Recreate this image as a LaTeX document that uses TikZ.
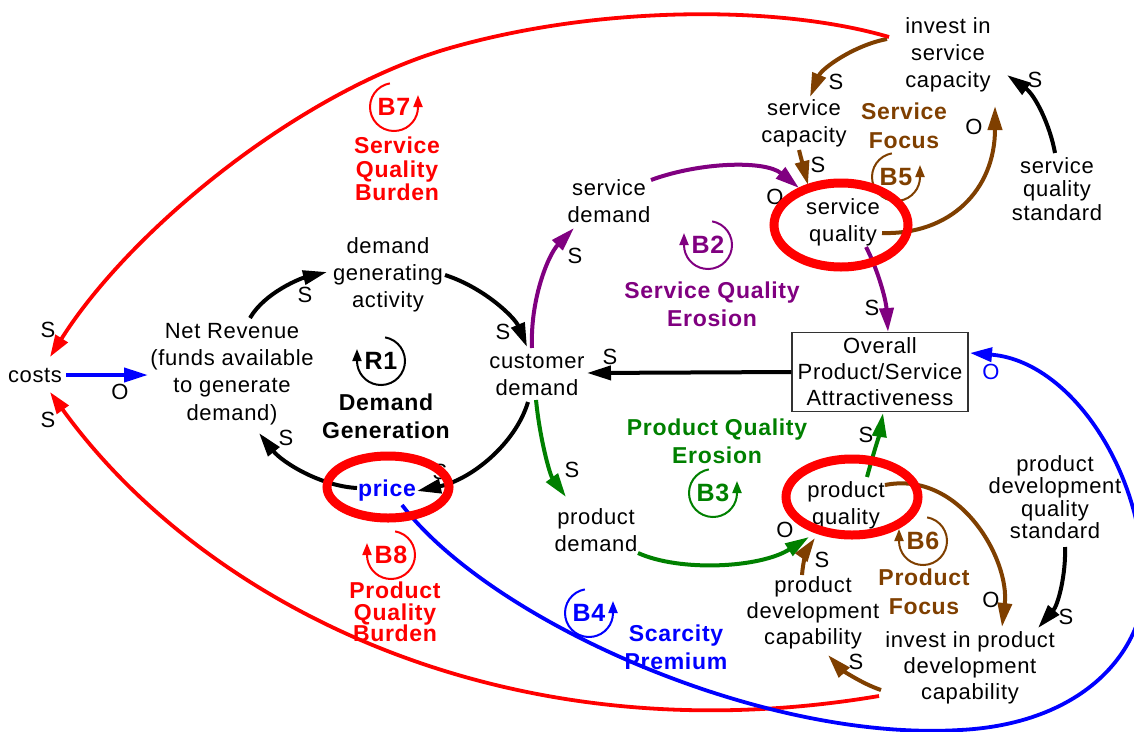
\documentclass[tikz,border=0pt]{standalone}
\usepackage{fontspec}
\setmainfont{Liberation Sans}[LetterSpace=3]
\usetikzlibrary{arrows.meta}
\definecolor{cred}{HTML}{FF0000}
\definecolor{cpur}{HTML}{800080}
\definecolor{cbrn}{HTML}{7F3F00}
\definecolor{cgrn}{HTML}{008000}
\definecolor{cblu}{HTML}{0000FF}
\begin{document}
\begin{tikzpicture}[x=1pt,y=-1pt,
  txt/.style={align=center,inner sep=0pt,font=\fontsize{22}{27.3}\selectfont},
  ttl/.style={align=center,inner sep=0pt,font=\bfseries\fontsize{23}{28}\selectfont},
  pol/.style={inner sep=0pt,font=\fontsize{22}{22}\selectfont},
  conn/.style={line width=4pt,-{Triangle[length=24pt,width=14pt]}},
  bigc/.style={line width=3.8pt,-{Triangle[length=22pt,width=14pt]}},
  loopa/.style={line width=2pt,-{Triangle[length=12pt,width=9pt]}},
  loopt/.style={inner sep=0pt,font=\bfseries\fontsize{25}{25}\selectfont},
  hilite/.style={draw=cred,line width=9pt}]
\useasboundingbox (0,0) rectangle (1134,731);

% ---------- variables ----------
\node[txt] (costs) at (35,375) {costs};
\node[txt] (netrev) at (232,374) {Net Revenue\\(funds available\\to generate\\demand)};
\node[txt] (dga) at (388,275) {demand\\generating\\activity};
\node[txt] (cd) at (537,375) {customer\\demand};
\node[txt,text=cblu,font=\bfseries\fontsize{23}{27}\selectfont] (price) at (387,491) {price};
\node[txt] (sd) at (609,201) {service\\demand};
\node[txt] (sc) at (804,123) {service\\capacity};
\node[txt] (isc) at (948,55) {invest in\\service\\capacity};
\node[txt] (sq) at (843,222) {service\\quality};
\node[txt,font=\fontsize{22}{23.5}\selectfont] (sqs) at (1057,189) {service\\quality\\standard};
\node[txt,draw=black!80,fill=white,line width=1.2pt,minimum width=176pt,minimum height=79pt,font=\fontsize{22}{26}\selectfont] (box) at (880,372) {Overall\\Product/Service\\Attractiveness};
\node[txt] (pq) at (846,505) {product\\quality};
\node[txt] (pd) at (596,530) {product\\demand};
\node[txt,font=\fontsize{22}{26}\selectfont] (pdc) at (813,613) {product\\development\\capability};
\node[txt,font=\fontsize{22}{26}\selectfont] (ipdc) at (970,668) {invest in product\\development\\capability};
\node[txt,font=\fontsize{22}{22.5}\selectfont] (pdqs) at (1055,497) {product\\development\\quality\\standard};

% ---------- loop titles ----------
\node[ttl,text=cred,font=\bfseries\fontsize{23}{23.5}\selectfont] (t7) at (397,169) {Service\\Quality\\Burden};
\node[ttl] (t1) at (386,416) {Demand\\Generation};
\node[ttl,text=cpur] (t2) at (712,304) {Service Quality\\Erosion};
\node[ttl,text=cbrn,font=\bfseries\fontsize{23}{29}\selectfont] (t5) at (904,126) {Service\\Focus};
\node[ttl,text=cgrn] (t3) at (717,441) {Product Quality\\Erosion};
\node[ttl,text=cbrn,font=\bfseries\fontsize{23}{29}\selectfont] (t6) at (924,592) {Product\\Focus};
\node[ttl,text=cblu] (t4) at (676,647) {Scarcity\\Premium};
\node[ttl,text=cred,font=\bfseries\fontsize{23}{21.5}\selectfont] (t8) at (395,612) {Product\\Quality\\Burden};

% ---------- loop symbols ----------
\begin{scope}[shift={(394,107)},yscale=-1]
  \draw[loopa,cred] (100:24) arc[start angle=100,end angle=360,radius=24] -- ++(0,12);
  \node[loopt,text=cred] (b7) at (0,0) {B7};
\end{scope}
\begin{scope}[shift={(381,361)},yscale=-1]
  \draw[loopa,black] (80:24) arc[start angle=80,end angle=-180,radius=24] -- ++(0,12);
  \node[loopt] (r1) at (0,0) {R1};
\end{scope}
\begin{scope}[shift={(708,245)},yscale=-1]
  \draw[loopa,cpur] (80:24) arc[start angle=80,end angle=-180,radius=24] -- ++(0,12);
  \node[loopt,text=cpur] (b2) at (0,0) {B2};
\end{scope}
\begin{scope}[shift={(896,177)},yscale=-1]
  \draw[loopa,cbrn] (100:24) arc[start angle=100,end angle=360,radius=24] -- ++(0,12);
  \node[loopt,text=cbrn] (b5) at (0,0) {B5};
\end{scope}
\begin{scope}[shift={(713,493)},yscale=-1]
  \draw[loopa,cgrn] (100:24) arc[start angle=100,end angle=360,radius=24] -- ++(0,12);
  \node[loopt,text=cgrn] (b3) at (0,0) {B3};
\end{scope}
\begin{scope}[shift={(923,541)},yscale=-1]
  \draw[loopa,cbrn] (80:24) arc[start angle=80,end angle=-180,radius=24] -- ++(0,12);
  \node[loopt,text=cbrn] (b6) at (0,0) {B6};
\end{scope}
\begin{scope}[shift={(589,613)},yscale=-1]
  \draw[loopa,cblu] (100:24) arc[start angle=100,end angle=360,radius=24] -- ++(0,12);
  \node[loopt,text=cblu] (b4) at (0,0) {B4};
\end{scope}
\begin{scope}[shift={(391,555)},yscale=-1]
  \draw[loopa,cred] (80:24) arc[start angle=80,end angle=-180,radius=24] -- ++(0,12);
  \node[loopt,text=cred] (b8) at (0,0) {B8};
\end{scope}

% ---------- connectors ----------
\draw[conn,cblu] ([shift={(31,0)}]costs.center) -- ([shift={(-84,1)}]netrev.center);
\draw[conn] ([shift={(18,-56)}]netrev.center) .. controls (265,292) and (302,278) .. ([shift={(-61,-3)}]dga.center);
\draw[conn] ([shift={(57,0)}]dga.center) .. controls (485,288) and (515,318) .. ([shift={(-10,-28)}]cd.center);
\draw[conn] ([shift={(-9,27)}]cd.center) .. controls (515,445) and (470,480) .. ([shift={(30,0)}]price.center);
\draw[conn] ([shift={(-30,-3)}]price.center) .. controls (320,486) and (282,462) .. ([shift={(27,59)}]netrev.center);
\draw[conn,cpur] ([shift={(-5,-27)}]cd.center) .. controls (530,300) and (548,255) .. ([shift={(-35,27)}]sd.center);
\draw[conn,cpur] ([shift={(42,-21)}]sd.center) .. controls (700,162) and (765,160) .. ([shift={(-44,-34)}]sq.center);
\draw[conn,cpur] ([shift={(23,25)}]sq.center) .. controls (878,270) and (886,300) .. ([shift={(8,-40)}]box.center);
\draw[conn] (box.west) -- ([shift={(50,-2)}]cd.center);
\draw[conn,cgrn] ([shift={(-1,25)}]cd.center) .. controls (540,440) and (550,475) .. ([shift={(-30,-33)}]pd.center);
\draw[conn,cgrn] ([shift={(42,23)}]pd.center) .. controls (680,572) and (760,568) .. ([shift={(-37,32)}]pq.center);
\draw[conn,cgrn] ([shift={(21,-28)}]pq.center) .. controls (873,455) and (880,432) .. ([shift={(3,41)}]box.center);
\draw[conn,cbrn] ([shift={(-11,-38)}]pdc.center) .. controls (803,560) and (808,548) .. ([shift={(-31,33)}]pq.center);
\draw[conn,cbrn] ([shift={(39,-20)}]pq.center) .. controls (960,470) and (1010,560) .. ([shift={(32,-41)}]ipdc.center);
\draw[conn,cbrn] ([shift={(-89,22)}]ipdc.center) .. controls (860,683) and (840,668) .. ([shift={(15,42)}]pdc.center);
\draw[conn] ([shift={(10,50)}]pdqs.center) .. controls (1066,575) and (1058,605) .. ([shift={(68,-40)}]ipdc.center);
\draw[conn,cbrn] ([shift={(-61,-16)}]isc.center) .. controls (855,45) and (822,68) .. ([shift={(6,-26)}]sc.center);
\draw[conn,cbrn] ([shift={(-5,27)}]sc.center) -- ([shift={(-35,-37)}]sq.center);
\draw[conn,cbrn] ([shift={(39,11)}]sq.center) .. controls (950,235) and (995,190) .. ([shift={(47,51)}]isc.center);
\draw[conn] ([shift={(-2,-36)}]sqs.center) .. controls (1050,125) and (1035,95) .. ([shift={(59,20)}]isc.center);
\draw[bigc,cred] ([shift={(-59,-18)}]isc.center) .. controls (780,5) and (600,5) .. (450,48) .. controls (300,91) and (130,230) .. ([shift={(15,-18)}]costs.center);
\draw[bigc,cred] ([shift={(-91,28)}]ipdc.center) .. controls (500,760) and (200,600) .. ([shift={(15,17)}]costs.center);
\draw[bigc,cblu] ([shift={(15,14)}]price.center) .. controls (490,620) and (760,742) .. (960,730) .. controls (1100,723) and (1165,630) .. (1140,540) .. controls (1125,445) and (1060,360) .. ([shift={(90,-19)}]box.center);

% ---------- polarity labels ----------
\node[pol] (oA) at (120,392) {O};
\node[pol] (sA) at (305,295) {S};
\node[pol] (sB) at (503,332) {S};
\node[pol] (sC) at (440,472) {S};
\node[pol] (sD) at (286,438) {S};
\node[pol] (sE) at (575,256) {S};
\node[pol] (oB) at (775,197) {O};
\node[pol] (sF) at (872,308) {S};
\node[pol] (sG) at (610,357) {S};
\node[pol] (sH) at (572,470) {S};
\node[pol] (oC) at (785,530) {O};
\node[pol] (sI) at (866,435) {S};
\node[pol] (sJ) at (822,560) {S};
\node[pol] (oD) at (991,600) {O};
\node[pol] (sK) at (856,662) {S};
\node[pol] (sL) at (1066,617) {S};
\node[pol] (sM) at (836,82) {S};
\node[pol] (sN) at (818,165) {S};
\node[pol] (oE) at (974,127) {O};
\node[pol] (sO) at (1035,80) {S};
\node[pol] (sP) at (48,330) {S};
\node[pol] (sQ) at (48,420) {S};
\node[pol,text=cblu] (oF) at (991,372) {O};

% ---------- highlight ellipses ----------
\draw[hilite] (388,487) ellipse [x radius=61, y radius=31];
\draw[hilite] (841,225) ellipse [x radius=67, y radius=42];
\draw[hilite] (852,497) ellipse [x radius=66, y radius=38];
\end{tikzpicture}
\end{document}
